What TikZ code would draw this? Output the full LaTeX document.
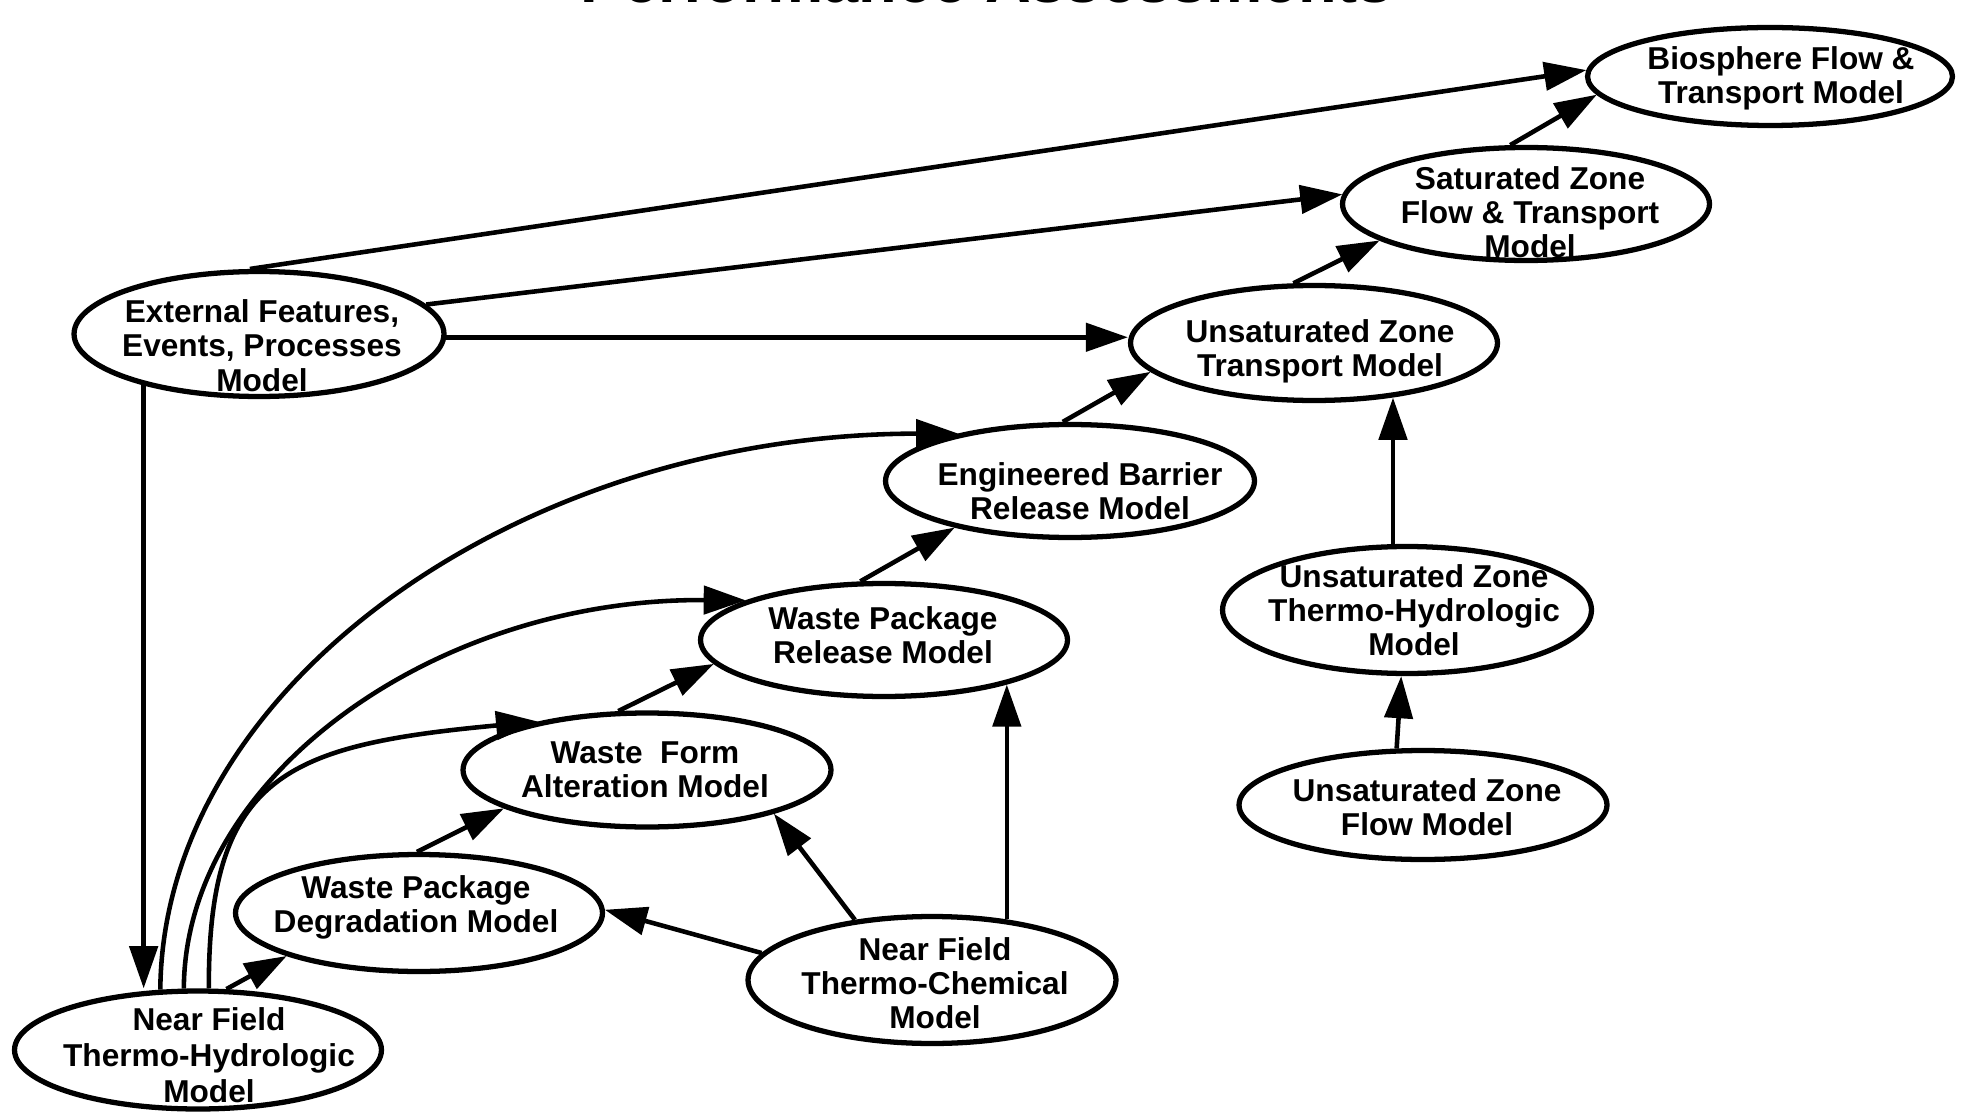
\documentclass[tikz,border=0pt]{standalone}
\usepackage{fontspec}
\setmainfont{Liberation Sans}
\usetikzlibrary{shapes.geometric,arrows.meta}
\begin{document}
\begin{tikzpicture}[x=0.02cm,y=-0.02cm,
  ell/.style 2 args={draw,ellipse,line width=3pt,inner sep=0pt,minimum width=#1cm,minimum height=#2cm},
  lbl/.style={align=center,inner sep=0pt,font=\bfseries\fontsize{18}{19.3}\selectfont},
  arr/.style={line width=2.6pt,-{Triangle[length=24pt,width=16pt]}},
  ttl/.style={anchor=base,inner sep=0pt,font=\bfseries\fontsize{36}{40}\selectfont}]
\useasboundingbox (0,0) rectangle (1963,1114);
\node[ttl] (title) at (987,3) {Performance Assessments};
% ellipses
\node[ell={7.30}{1.96}] (bio)  at (1770,76.5) {};
\node[ell={7.34}{2.26}] (sat)  at (1526,204) {};
\node[ell={7.40}{2.50}] (ext)  at (259,334)  {};
\node[ell={7.34}{2.30}] (uzt)  at (1314,343) {};
\node[ell={7.38}{2.26}] (ebr)  at (1070,481) {};
\node[ell={7.38}{2.54}] (uzth) at (1407,610) {};
\node[ell={7.34}{2.26}] (wpr)  at (884,640)  {};
\node[ell={7.36}{2.28}] (wfa)  at (647,770)  {};
\node[ell={7.36}{2.18}] (uzf)  at (1423,805) {};
\node[ell={7.34}{2.34}] (wpd)  at (419,913)  {};
\node[ell={7.36}{2.54}] (nftc) at (932,980)  {};
\node[ell={7.34}{2.36}] (nfth) at (198,1050) {};
% labels
\node[lbl] (biot)  at (1781,78) {Biosphere Flow \&\\Transport Model};
\node[lbl] (satt)  at (1530,212) {Saturated Zone\\Flow \& Transport\\Model};
\node[lbl,font=\bfseries\fontsize{18}{19.8}\selectfont] (extt) at (262,345.5) {External Features,\\Events, Processes\\Model};
\node[lbl] (uztt)  at (1320,351) {Unsaturated Zone\\Transport Model};
\node[lbl] (ebrt)  at (1080,491) {Engineered Barrier\\Release Model};
\node[lbl] (uztht) at (1414,610) {Unsaturated Zone\\Thermo-Hydrologic\\Model};
\node[lbl] (wprt)  at (883,635) {Waste Package\\Release Model};
\node[lbl] (wfat)  at (645,770) {Waste\ \ Form\\Alteration Model};
\node[lbl] (uzft)  at (1427,807) {Unsaturated Zone\\Flow Model};
\node[lbl] (wpdt)  at (416,907) {Waste Package\\Degradation Model};
\node[lbl] (nftct) at (935,983) {Near Field\\Thermo-Chemical\\Model};
\node[lbl,font=\bfseries\fontsize{18}{20.4}\selectfont] (nftht) at (209,1055) {Near Field\\Thermo-Hydrologic\\Model};
% straight connectors
\draw[arr] (ext.98) -- (bio.178);
\draw[arr] (ext.10) -- (sat.177);
\draw[arr] (ext.-1) -- (ext.-1 -| uzt.west);
\draw[arr] (ext.204) -- (ext.204 |- nfth.north);
\draw[arr] (sat.105) -- (bio.186);
\draw[arr] (uzt.109) -- (sat.194);
\draw[arr] (ebr.97) -- (uzt.190);
\draw[arr] (wpr.112) -- (ebr.202);
\draw[arr] (wfa.116) -- (wpr.188);
\draw[arr] (wpd.92) -- (wfa.195);
\draw[arr] (nfth.65) -- (wpd.198);
\draw[arr] (nftc.171) -- (wpd.1);
\draw[arr] (nftc.142) -- (wfa.-19);
\draw[arr] (nftc.39) -- (nftc.39 |- wpr.-20);
\draw[arr] (uzth.102) -- (uzth.102 |- uzt.-35);
\draw[arr] (uzf.115) -- (uzth.265);
% curved connectors
\draw[arr] (nfth.122) .. controls (163,685) and (520,434) .. (ebr.157);
\draw[arr] (nfth.103) .. controls (185,776) and (436,598) .. (wpr.164);
\draw[arr] (nfth.80) .. controls (208,775) and (287,745) .. (wfa.156);
\end{tikzpicture}
\end{document}
